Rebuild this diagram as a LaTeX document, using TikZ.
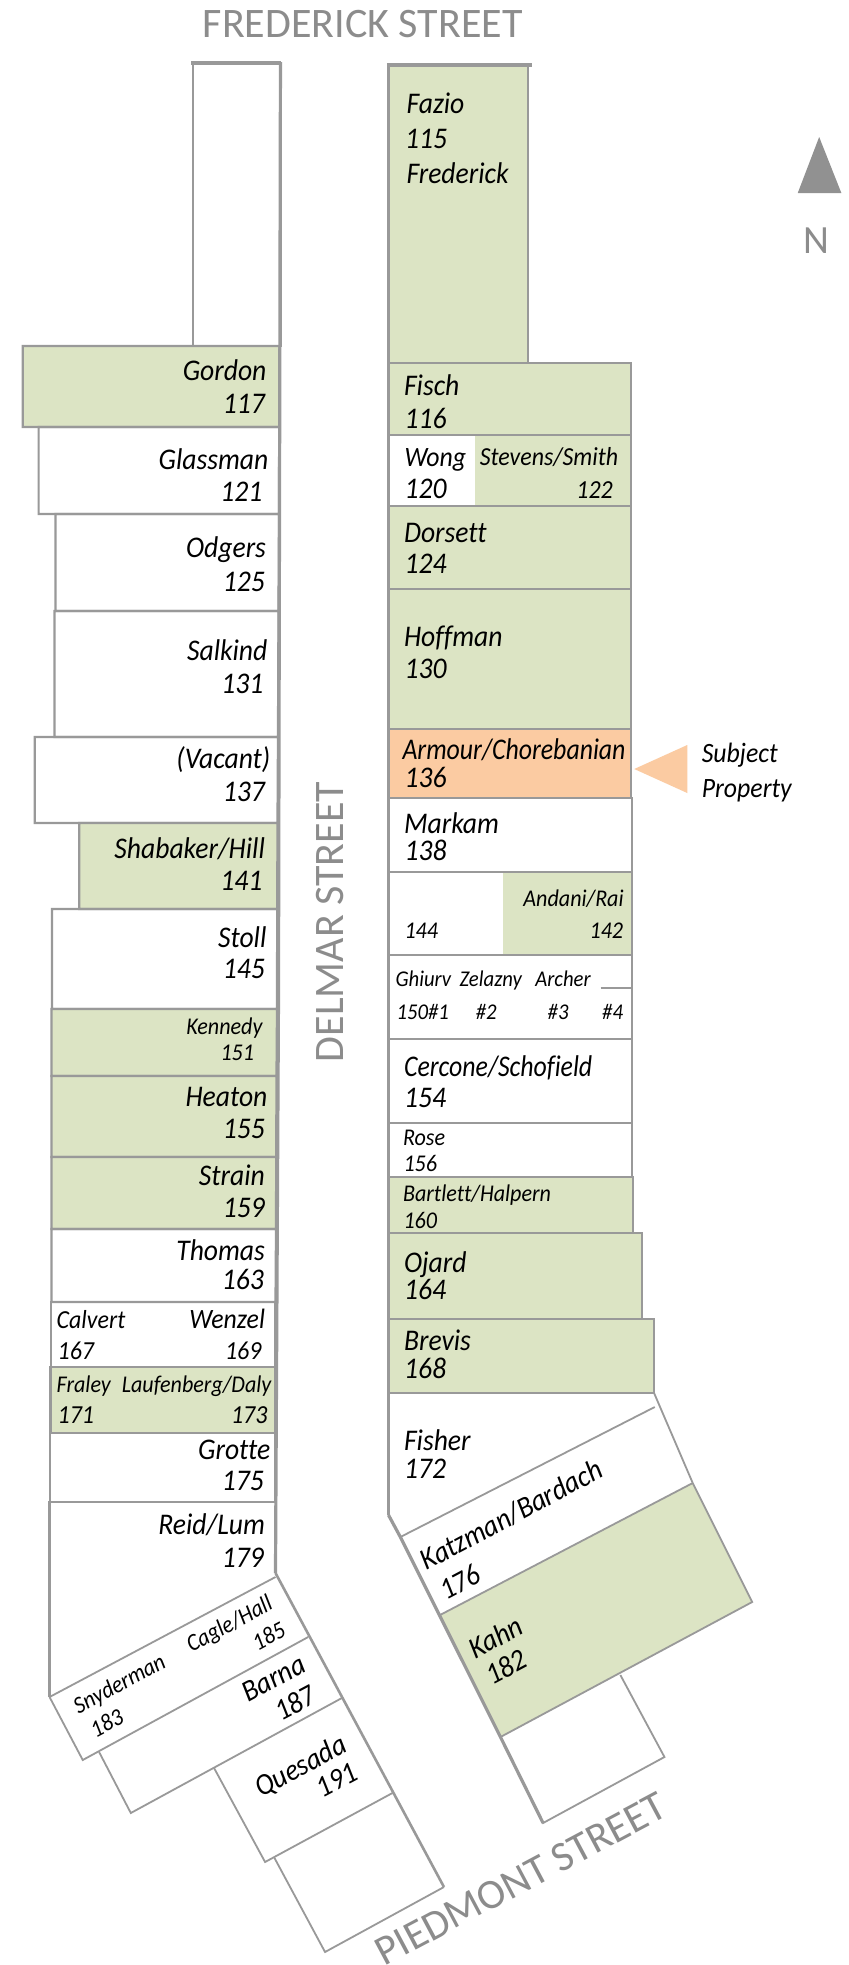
\documentclass[tikz,border=0pt]{standalone}
\usepackage{fontspec}
\setmainfont{Carlito}
\newfontfamily\lotfont[ItalicFont=Carlito Italic,FakeStretch=0.92,Ligatures=CommonOff]{Carlito}
\newfontfamily\lotnarrow[ItalicFont=Carlito Italic,FakeStretch=0.86,Ligatures=CommonOff]{Carlito}
\definecolor{lotgreen}{HTML}{DCE4C4}
\definecolor{lotorange}{HTML}{FBCBA2}
\definecolor{lotline}{HTML}{999999}
\definecolor{streetgray}{HTML}{8C8C8C}
\tikzset{
  lot/.style={draw=lotline,line width=2.2pt,line join=miter},
  green lot/.style={lot,fill=lotgreen},
  thinlot/.style={draw=lotline,line width=1.8pt,line join=miter},
  frontage/.style={draw=lotline,line width=3.2pt},
  big/.style={font=\fontsize{30}{30}\selectfont\lotfont\itshape,inner sep=0pt,text=black},
  bignarrow/.style={font=\fontsize{30}{30}\selectfont\lotnarrow\itshape,inner sep=0pt,text=black},
  medbig/.style={font=\fontsize{28}{28}\selectfont\lotfont\itshape,inner sep=0pt,text=black},
  mid/.style={font=\fontsize{26}{26}\selectfont\lotfont\itshape,inner sep=0pt,text=black},
  small/.style={font=\fontsize{24}{24}\selectfont\lotfont\itshape,inner sep=0pt,text=black},
  tiny/.style={font=\fontsize{22.5}{23}\selectfont\lotfont\itshape,inner sep=0pt,text=black},
  R/.style={anchor=base east},
  L/.style={anchor=base west},
  street/.style={font=\fontsize{42}{42}\selectfont,text=streetgray,inner sep=0pt}
}
\begin{document}
\begin{tikzpicture}[x=0.991pt,y=-1pt]
\path[use as bounding box,fill=white] (0,0) rectangle (856.7,1965);
% --- left column
\draw[lot] (195,63) rectangle (283,346);
\draw[green lot] (23,346) -- (282,346) -- (281.7,427) -- (23,427) -- cycle;
\draw[lot] (39,427) -- (281.7,427) -- (281.5,514) -- (39,514) -- cycle;
\draw[lot] (56,514) -- (281.5,514) -- (281,611) -- (56,611) -- cycle;
\draw[lot] (55,611) -- (281,611) -- (280.5,737) -- (55,737) -- cycle;
\draw[lot] (35,737) -- (280.5,737) -- (280,823) -- (35,823) -- cycle;
\draw[green lot] (80,823) -- (280,823) -- (279.7,909) -- (80,909) -- cycle;
\draw[lot] (52.5,909) -- (279.7,909) -- (279.5,1009) -- (52.5,1009) -- cycle;
\draw[green lot] (52,1009) -- (279.5,1009) -- (279,1076) -- (52,1076) -- cycle;
\draw[green lot] (52,1076) -- (279,1076) -- (278.7,1157) -- (52,1157) -- cycle;
\draw[green lot] (52,1157) -- (278.7,1157) -- (278.5,1229) -- (52,1229) -- cycle;
\draw[lot] (52,1229) -- (278.5,1229) -- (278,1302) -- (52,1302) -- cycle;
\draw[lot] (51.5,1302) rectangle (278,1367);
\draw[green lot] (51,1367) rectangle (278,1433);
\draw[lot] (50.5,1433) rectangle (278,1502);
\draw[lot] (50,1697) -- (50,1502) -- (278,1502);
% left diagonal blocks
\draw[thinlot] (50,1697) -- (278,1577);
\draw[thinlot] (50,1697) -- (83.5,1760) -- (311,1637);
\draw[thinlot] (100,1752) -- (132,1813) -- (345,1698);
\draw[thinlot] (216,1768) -- (267.5,1862) -- (396,1793);
\draw[thinlot] (277,1858) -- (328,1952) -- (448,1887);
\draw[frontage,line width=2.6pt] (278,1573) -- (448,1887);
\draw[frontage] (283,62) -- (281,1000) -- (278,1573);
\draw[frontage] (193,63) -- (284,63);
% --- right column
\draw[green lot] (392,65) rectangle (533,363);
\draw[green lot] (392,363) rectangle (637,435);
\fill[lotgreen] (479.5,435) rectangle (637,506);
\draw[lot] (392,435) rectangle (637,506);
\draw[green lot] (392,506) rectangle (637,589);
\draw[green lot] (392,589) rectangle (637,729);
\draw[lot,fill=lotorange] (392,729) rectangle (637,798);
\draw[lot] (392,798) rectangle (638,872);
\fill[lotgreen] (508,872) rectangle (638,955);
\draw[lot] (392,872) rectangle (638,955);
\draw[lot] (392,955) rectangle (638,1039);
\draw[lotline,line width=1.2pt] (606,988) -- (638,988);
\draw[lot] (392,1039) rectangle (638,1123);
\draw[lot] (392,1123) rectangle (638,1177);
\draw[green lot] (392,1177) rectangle (639,1233);
\draw[green lot] (392,1233) rectangle (648,1319);
\draw[green lot] (392,1319) rectangle (660,1393);
% right diagonal
\draw[green lot,draw=none] (444,1615) -- (699,1483) -- (759,1602) -- (505,1737) -- cycle;
\draw[thinlot] (660,1393) -- (699,1483) -- (759,1602) -- (505,1737);
\draw[thinlot] (404,1537) -- (660.7,1407);
\draw[thinlot] (444,1615) -- (699,1483);
\draw[thinlot] (505,1737) -- (548,1823) -- (670.5,1757) -- (626,1675);
\draw[frontage] (392,1515) -- (404,1537) -- (505,1737) -- (548,1823);
\draw[frontage] (392,63) -- (392,1515);
\draw[frontage] (390.5,65) -- (537,65);
% --- subject marker
\fill[lotorange] (640,769) -- (693.5,745) -- (693.5,793) -- cycle;
\node[medbig,L] (subject) at (708,762) {Subject};
\node[medbig,L] (property) at (708,797) {Property};
% --- north arrow
\fill[lotline!95!black] (826.6,137) -- (805,193) -- (849,193) -- cycle;
\node[street,anchor=base,font=\fontsize{40}{40}\selectfont] (north) at (824,253) {N};
% --- street names
\node[street,anchor=base] (frederick) at (366,37) {FREDERICK STREET};
\node[street,anchor=base,rotate=90] (delmar) at (347,922) {DELMAR STREET};
\node[street,anchor=base,rotate=28] (piedmont) at (532,1891) {PIEDMONT STREET};
% --- left labels
\node[big,R] (n1) at (269,380) {Gordon};
\node[big,R] (n2) at (267.5,413) {117};
\node[big,R] (n3) at (271,469) {Glassman};
\node[big,R] (n4) at (265,501) {121};
\node[big,R] (n5) at (268.6,557) {Odgers};
\node[big,R] (n6) at (267.5,591) {125};
\node[big,R] (n7) at (270,660) {Salkind};
\node[big,R] (n8) at (266,693) {131};
\node[big,R] (n9) at (273,768) {(Vacant)};
\node[big,R] (n10) at (267.5,801) {137};
\node[big,R] (n11) at (267.5,858) {Shabaker/Hill};
\node[big,R] (n12) at (265,890) {141};
\node[big,R] (n13) at (269,947) {Stoll};
\node[big,R] (n14) at (267.5,978) {145};
\node[small,R] (n15) at (265,1034) {Kennedy};
\node[small,R] (n16) at (256.6,1060) {151};
\node[big,R] (n17) at (270,1106) {Heaton};
\node[big,R] (n18) at (267.5,1138) {155};
\node[big,R] (n19) at (267.5,1185) {Strain};
\node[big,R] (n20) at (267.5,1217) {159};
\node[big,R] (n21) at (267.5,1260) {Thomas};
\node[big,R] (n22) at (266.5,1289) {163};
\node[mid,L] (n23) at (57,1328) {Calvert};
\node[mid,L] (n24) at (58,1359) {167};
\node[medbig,R] (n25) at (267.5,1328) {Wenzel};
\node[mid,R] (n26) at (264,1359) {169};
\node[small,L] (n27) at (57,1392) {Fraley};
\node[mid,L] (n28) at (58,1423) {171};
\node[small,R] (n29) at (274,1392) {Laufenberg/Daly};
\node[mid,R] (n30) at (270,1423) {173};
\node[big,R] (n31) at (273,1459) {Grotte};
\node[big,R] (n32) at (266.5,1490) {175};
\node[big,R] (n33) at (267.5,1534) {Reid/Lum};
\node[big,R] (n34) at (266.5,1567) {179};
% left diagonal labels
\node[small,rotate=28] (n35) at (121,1685) {Snyderman};
\node[small,rotate=28] (n36) at (107.6,1723) {183};
\node[small,rotate=28] (n37) at (232,1625) {Cagle/Hall};
\node[small,rotate=28] (n38) at (271,1636) {185};
\node[big,rotate=28] (n39) at (276,1678) {Barna};
\node[big,rotate=28] (n40) at (297.6,1703) {187};
\node[big,rotate=28] (n41) at (304,1767) {Quesada};
\node[big,rotate=28] (n42) at (340,1780) {191};
% --- right labels
\node[big,L] (m1) at (410,113) {Fazio};
\node[big,L] (m2) at (408.5,148) {115};
\node[big,L] (m3) at (410,183) {Frederick};
\node[big,L] (m4) at (407.5,395) {Fisch};
\node[big,L] (m5) at (408,428) {116};
\node[medbig,L] (m6) at (408,466) {Wong};
\node[big,L] (m7) at (408,498) {120};
\node[mid,L] (m8) at (484,465) {Stevens/Smith};
\node[mid,R] (m9) at (618.6,498) {122};
\node[big,L] (m10) at (407.5,542) {Dorsett};
\node[big,L] (m11) at (408,573) {124};
\node[big,L] (m12) at (407.5,646) {Hoffman};
\node[big,L] (m13) at (408,678) {130};
\node[bignarrow,L] (m14) at (406,759) {Armour/Chorebanian};
\node[big,L] (m15) at (408,787) {136};
\node[big,L] (m16) at (407.5,833) {Markam};
\node[big,L] (m17) at (408,860) {138};
\node[small,L] (m18) at (408,938) {144};
\node[small,L] (m19) at (528,906) {Andani/Rai};
\node[small,R] (m20) at (629,938) {142};
\node[tiny,L] (m21) at (399,986) {Ghiurv};
\node[tiny,L] (m22) at (463.5,986) {Zelazny};
\node[tiny,L] (m23) at (540,986) {Archer};
\node[tiny,L] (m24) at (400,1019) {150\#1};
\node[tiny,L] (m25) at (480,1019) {\#2};
\node[tiny,L] (m26) at (552.5,1019) {\#3};
\node[tiny,L] (m27) at (607.5,1019) {\#4};
\node[bignarrow,L] (m28) at (407.5,1076) {Cercone/Schofield};
\node[big,L] (m29) at (407.5,1107) {154};
\node[small,L] (m30) at (406.5,1145) {Rose};
\node[small,L] (m31) at (407,1171) {156};
\node[small,L] (m32) at (406.5,1201) {Bartlett/Halpern};
\node[small,L] (m33) at (407,1228) {160};
\node[big,L] (m34) at (407.5,1272) {Ojard};
\node[big,L] (m35) at (407.5,1299) {164};
\node[big,L] (m36) at (407.5,1350) {Brevis};
\node[big,L] (m37) at (407.5,1378) {168};
\node[big,L] (m38) at (407.5,1450) {Fisher};
\node[big,L] (m39) at (407.5,1478) {172};
\node[big,rotate=28] (m40) at (516,1515) {Katzman/Bardach};
\node[big,rotate=28] (m41) at (464,1582) {176};
\node[big,rotate=28] (m42) at (500,1637) {Kahn};
\node[big,rotate=28] (m43) at (510.5,1667) {182};
\end{tikzpicture}
\end{document}
